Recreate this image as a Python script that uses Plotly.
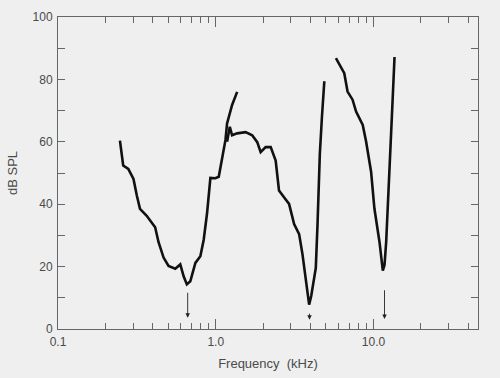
import numpy as np
import plotly.graph_objects as go

# Curve A: low-frequency tuning curve (kHz, dB SPL)
freq_a = [0.247, 0.259, 0.279, 0.301, 0.316, 0.331, 0.365, 0.413, 0.434, 0.467,
          0.502, 0.554, 0.596, 0.626, 0.656, 0.690, 0.743, 0.799, 0.839, 0.881,
          0.925, 0.995, 1.045, 1.097, 1.153, 1.180, 1.270, 1.367]
db_a = [60.4, 52.4, 51.3, 48.1, 42.8, 38.5, 36.3, 32.6, 27.8, 22.9,
        20.2, 19.3, 20.7, 16.9, 14.3, 15.3, 21.2, 23.3, 28.6, 37.1,
        48.4, 48.3, 48.8, 55.2, 60.6, 65.9, 71.8, 76.0]

# Curve B: mid-frequency tuning curve
freq_b = [1.180, 1.228, 1.270, 1.367, 1.546, 1.703, 1.833, 1.927, 2.073, 2.231,
          2.399, 2.518, 2.710, 2.917, 3.140, 3.378, 3.547, 3.727, 3.91, 4.03,
          4.31, 4.42, 4.48, 4.57, 4.71, 4.88]
db_b = [60.0, 64.8, 62.1, 62.7, 63.1, 62.1, 59.9, 56.7, 58.3, 58.3,
        54.0, 44.4, 42.2, 40.1, 33.6, 30.4, 24.0, 15.4, 7.8, 10.6,
        19.6, 33.6, 44.2, 56.0, 67.7, 79.4]

# Curve C: high-frequency tuning curve
freq_c = [5.78, 6.22, 6.53, 6.85, 7.37, 7.76, 8.55, 8.98, 9.66, 10.14,
          10.92, 11.46, 11.75, 12.04, 12.34, 12.64, 13.15, 13.6]
db_c = [86.8, 83.6, 82.0, 76.1, 73.5, 69.7, 65.4, 60.1, 50.4, 38.6,
        27.9, 18.7, 20.5, 27.9, 38.6, 49.3, 70.6, 87.2]

# Characteristic-frequency arrows: frequency, arrow tail dB, arrow tip dB
arrow_freq = [0.664, 3.93, 11.75]
arrow_top = [12.1, 5.4, 12.9]
arrow_tip = [3.6, 3.0, 3.2]

x_major = [0.1, 1.0, 10.0]
x_major_text = ["0.1", "1.0", "10.0"]
x_minor = [m * d for d in (0.1, 1.0, 10.0) for m in range(2, 10) if m * d < 46]
y_ticks = list(range(0, 101, 10))
y_text = [str(v) if v % 20 == 0 else "" for v in y_ticks]

fig = go.Figure()
for fx, dy in ((freq_a, db_a), (freq_b, db_b), (freq_c, db_c)):
    fig.add_trace(go.Scatter(x=fx, y=dy, mode="lines",
                             line=dict(color="#111111", width=2.6, shape="linear"),
                             showlegend=False, hoverinfo="skip"))

for f, top, tip in zip(arrow_freq, arrow_top, arrow_tip):
    fig.add_annotation(x=np.log10(f), y=tip, ax=np.log10(f), ay=top,
                       xref="x", yref="y", axref="x", ayref="y",
                       showarrow=True, arrowhead=2, arrowsize=1.0,
                       arrowwidth=0.9, arrowcolor="#222222", text="")

axis_color = "#666666"
text_font = dict(family="Liberation Sans, Arial, sans-serif", size=12, color="#4a4a4a")

fig.update_layout(
    width=500, height=378,
    margin=dict(l=58, r=22, t=17, b=49),
    paper_bgcolor="#efefef", plot_bgcolor="#efefef",
    font=text_font,
    showlegend=False,
)
fig.update_xaxes(
    type="log", range=[-1, np.log10(46)],
    tickvals=x_major, ticktext=x_major_text,
    ticks="inside", ticklen=10, tickwidth=1, tickcolor=axis_color,
    minor=dict(ticks="inside", tickvals=x_minor, ticklen=6, tickwidth=1, tickcolor=axis_color, showgrid=False),
    showline=True, linecolor=axis_color, linewidth=1, mirror="ticks",
    showgrid=False, zeroline=False, automargin=False,
    title=dict(text="Frequency  (kHz)", standoff=10, font=dict(size=13)),
    tickfont=dict(size=12), ticklabelstandoff=2,
)
fig.update_yaxes(
    range=[0, 100],
    tickvals=y_ticks, ticktext=y_text,
    ticks="inside", ticklen=7, tickwidth=1, tickcolor=axis_color,
    showline=True, linecolor=axis_color, linewidth=1, mirror="ticks",
    showgrid=False, zeroline=False, automargin=False,
    title=dict(text="dB SPL", standoff=12, font=dict(size=13)),
    tickfont=dict(size=12), ticklabelstandoff=2,
)

fig.write_html("out.html", config={"displayModeBar": False},
               post_script="document.body.style.margin='0';document.body.style.background='#efefef';")
